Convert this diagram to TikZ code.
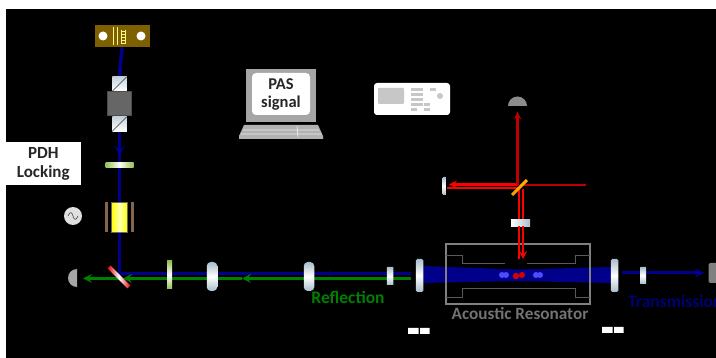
\documentclass[tikz,border=0pt]{standalone}
\usepackage{fontspec}
\setmainfont{Carlito}
\usetikzlibrary{backgrounds}
\definecolor{navybeam}{HTML}{00008B}
\definecolor{greenbeam}{HTML}{008000}
\definecolor{redbeam}{HTML}{FF0000}
\definecolor{darkredbeam}{HTML}{C00000}
\definecolor{steel}{HTML}{A9BDCB}
\definecolor{mountgold}{HTML}{7F6000}
\definecolor{plategreen}{HTML}{92C050}
\definecolor{eombrown}{HTML}{85644A}
\tikzset{
  blockbox/.style={rectangle,inner sep=0pt,outer sep=0pt},
  lensbox/.style={blockbox,rounded corners=4pt,top color=steel,bottom color=steel,middle color=white},
  platebox/.style={blockbox,left color=plategreen,right color=plategreen,middle color=white},
  cubebox/.style={blockbox,top color=steel!70!white,bottom color=white,minimum width=14.5pt,minimum height=14.5pt},
  mirrorbox/.style={blockbox,rotate=-45,left color=red!90!black,right color=red!90!black,middle color=white,minimum width=28pt,minimum height=4pt},
  beamblue/.style={navybeam,line width=3.5pt},
  beamgreen/.style={greenbeam,line width=2.8pt},
  beamred/.style={redbeam,line width=2.4pt},
  beamdark/.style={darkredbeam,line width=2.2pt},
  boldlabel/.style={font=\bfseries\fontsize{17.5}{19}\selectfont},
}
\begin{document}
\begin{tikzpicture}[x=1pt,y=-1pt]
  \useasboundingbox (0,0) rectangle (716,358);
  % draw black panel
  \begin{scope}[on background layer]
    \fill[black] (6,9) rectangle (716,358);
  \end{scope}
  % draw laser mount
  \node at(122,36)[blockbox,fill=mountgold,minimum width=55pt,minimum height=22pt](laser){};
  \fill[white] (103,36) circle (4.5) (141,36) circle (4.5);
  \draw[yellow!50!white,line width=.6pt] (113,27) -- (113,45) (117,27) -- (117,45) (121,30) -- (121,44) (125,30) -- (125,44);
  \foreach \ypos in {31,34,...,43} \draw[yellow!50!white,line width=.6pt] (121,\ypos) -- (125,\ypos);
  % draw isolator
  \node at(119.5,84)[cubebox](cubetop){};
  \node at(119.5,124)[cubebox](cubebottom){};
  \node at(119.5,103.5)[blockbox,draw=black!70,fill=black!60,minimum width=24pt,minimum height=24pt](isolator){};
  \draw[black!80,line width=.6pt] (cubetop.south west) -- (cubetop.north east) (cubebottom.south west) -- (cubebottom.north east);
  % draw wave plate
  \node at(119.5,165.5)[platebox,minimum width=28pt,minimum height=5pt](platetop){};
  % draw PDH box
  \node at(43.25,163.5)[blockbox,fill=white,minimum width=74.5pt,minimum height=43pt,align=center,font=\bfseries\fontsize{17}{19}\selectfont,text=black!85](pdh){PDH\\Locking};
  % draw modulator
  \node at(73,216)[circle,fill=black!12,minimum size=18pt,inner sep=0pt](source){};
  \draw[black!70,line width=.6pt] (68,216) .. controls (70,211) and (72,212) .. (73,216) .. controls (74,220) and (76,221) .. (78,216);
  \node at(119.5,217.5)[blockbox,draw=black!60,line width=.5pt,left color=yellow,right color=yellow,middle color=yellow!30!white,minimum width=16pt,minimum height=30pt](eom){};
  \node at(106.5,217.5)[blockbox,fill=eombrown,minimum width=3.5pt,minimum height=30pt](eomleft){};
  \node at(132.5,217.5)[blockbox,fill=eombrown,minimum width=3.5pt,minimum height=30pt](eomright){};
  % draw detectors
  \fill[black!35] (77,287) arc (90:270:9) -- cycle;
  \coordinate (detectorleft) at (83,278.5);
  \fill[black!45] (508,106) arc (180:360:9.5) -- cycle;
  \coordinate (detectortop) at (517.5,112);
  \node at(713,273)[blockbox,fill=black!50,rounded corners=1.5pt,minimum width=9pt,minimum height=20pt](detectorright){};
  % draw dichroic mirror
  \node at(119,277)[mirrorbox](dichroic){};
  % draw wave plate and lenses on the axis
  \node at(169.5,275)[blockbox,top color=plategreen,bottom color=plategreen,middle color=white,minimum width=5pt,minimum height=28pt](platemid){};
  \node at(212,276.5)[lensbox,minimum width=10.5pt,minimum height=29pt](lensleft){};
  \node at(309,276.5)[lensbox,minimum width=10.5pt,minimum height=29pt](lensright){};
  \node at(390,276)[lensbox,rounded corners=.5pt,minimum width=6.5pt,minimum height=18pt](pickoff){};
  % draw cavity mirrors
  \node at(419.5,275.5)[lensbox,rounded corners=1.5pt,minimum width=7.5pt,minimum height=33pt](cavityleft){};
  \node at(614.5,275.5)[lensbox,rounded corners=1.5pt,minimum width=7.5pt,minimum height=33pt](cavityright){};
  \node at(643,275.5)[lensbox,rounded corners=.5pt,minimum width=6pt,minimum height=17pt](pickoffright){};
  % draw resonator
  \node at(518,274)[blockbox,draw=black!50,line width=1.3pt,minimum width=144pt,minimum height=60pt](resonator){};
  \draw[black!65,line width=.9pt] (resonator.west |- 0,255) -- (462,255) -- (462,263) -- (505,263) (527,263) -- (575,263) -- (575,255) -- (resonator.east |- 0,255);
  \draw[black!65,line width=.9pt] (resonator.west |- 0,297) -- (462,297) -- (462,288) -- (575,288) -- (575,297) -- (resonator.east |- 0,297);
  \node at(520,314)[font=\bfseries\fontsize{17.2}{19}\selectfont,text=black!55](resonatorlabel){Acoustic Resonator};
  % draw labels
  \node at(348,297)[boldlabel,text=greenbeam](reflection){Reflection};
  \node at(628,301)[anchor=west,inner sep=0pt,boldlabel,text=navybeam!85!black](transmission){Transmission};
  % draw red path optics
  \node at(519.5,187.5)[blockbox,rotate=45,left color=orange!80!yellow,right color=orange!60!yellow,minimum width=21pt,minimum height=3pt](splitter){};
  \node at(520.5,223)[blockbox,left color=white,right color=steel,minimum width=19pt,minimum height=7pt](window){};
  \node at(444.5,186)[lensbox,rounded corners=1pt,minimum width=4pt,minimum height=18pt](foldmirror){};
  \coordinate (redsource) at (586,185);
  % draw PAS computer
  \node at(280.75,95.5)[blockbox,fill=black!35,minimum width=70.5pt,minimum height=53pt](screen){};
  \node at(281,94)[blockbox,fill=white,rounded corners=4pt,minimum width=58pt,minimum height=42pt,align=center,font=\bfseries\fontsize{16.5}{18}\selectfont,text=black!85](pas){PAS\\signal};
  \fill[black!30] (244,125) -- (318,125) -- (323,136) -- (323,139) -- (239,139) -- (239,136) -- cycle;
  \draw[black!8,line width=.7pt] (243,130) -- (319,130) (241,134) -- (321,134) (297,126) -- (298,137);
  % draw function generator
  \node at(412,99)[blockbox,fill=white,rounded corners=3pt,minimum width=76pt,minimum height=32pt](generator){};
  \node at(391,96)[blockbox,fill=black!22,rounded corners=1pt,minimum width=26pt,minimum height=16pt](display){};
  \fill[black!22] (440,96) circle (3);
  \foreach \xpos/\ypos in {411/91,417/91,430/91,411/96,417/96,411/101,417/101,411/106,417/106,424/106,411/111,424/111}
    \fill[black!22] (\xpos,\ypos) rectangle +(5.5,-3);
  % draw white ticks
  \fill[white] (408,328) rectangle (418.5,334) (420,328) rectangle (429.5,334);
  \fill[white] (602,327) rectangle (612.5,333) (614,327) rectangle (623.5,333);
  % draw beams under the optics
  \begin{scope}[on background layer]
    \coordinate (greenstart) at (411,278.5);
    \coordinate (greentipa) at (242,278.5);
    \coordinate (greentipb) at (123,278.5);
    \coordinate (bluestart) at (411,273.5);
    % blue beam from the laser
    \draw[beamblue] (laser.south) -- (cubetop.north);
    \draw[beamblue,-stealth] (cubebottom.south) -- (119.5,156);
    \draw[beamblue] (119.5,150) -- (platetop.north);
    \draw[beamblue] (platetop.south) -- (eom.north);
    \draw[beamblue] (eom.south) -- (119.5,273.5) -- (bluestart);
    \draw[navybeam,line width=1.5pt,-stealth] (325,273.5) -- (335,273.5);
    % green reflected beam
    \draw[beamgreen] (greenstart) -- (lensright.east |- greenstart);
    \draw[beamgreen,-stealth] (lensright.west |- greenstart) -- (greentipa);
    \draw[beamgreen] (greentipa) -- (platemid.east |- greenstart);
    \draw[beamgreen,-stealth] (platemid.west |- greenstart) -- (greentipb);
    \draw[beamgreen,-stealth] (dichroic |- detectorleft) -- (detectorleft);
    % transmitted beam
    \draw[beamblue,line width=3pt,-stealth] (622,273) -- (704,273);
    % cavity beam
    \fill[navybeam] (cavityleft.east |- 0,266) -- (517,269.5) -- (cavityright.west |- 0,267) -- (cavityright.west |- 0,283) -- (517,281) -- (cavityleft.east |- 0,283) -- cycle;
    % red beams above the window
    \draw[beamred] (519,189) -- (window.north -| 519,0);
    \draw[beamred] (523,189) -- (window.north -| 523,0);
    \draw[beamred] (519,188) -- (foldmirror.east |- 0,188);
    \draw[beamred,-stealth] (517.5,184.5) -- (449,184.5);
    \draw[beamdark,-stealth] (detectortop |- redsource) -- (detectortop);
    \draw[beamdark] (splitter |- redsource) -- (redsource);
  \end{scope}
  % draw red beams into the resonator
  \draw[beamred] (window.south -| 519,0) -- (519,259);
  \draw[beamred,-stealth] (window.south -| 523,0) -- (523,259);
  % draw molecules
  \foreach \xpos in {502,506,536,540} \fill[blue!70!white] (\xpos,275) circle (3);
  \fill[blue!55!black] (519,274) circle (3);
  \fill[red!85!black] (516,276) circle (3.2) (522,275) circle (3);
\end{tikzpicture}
\end{document}
